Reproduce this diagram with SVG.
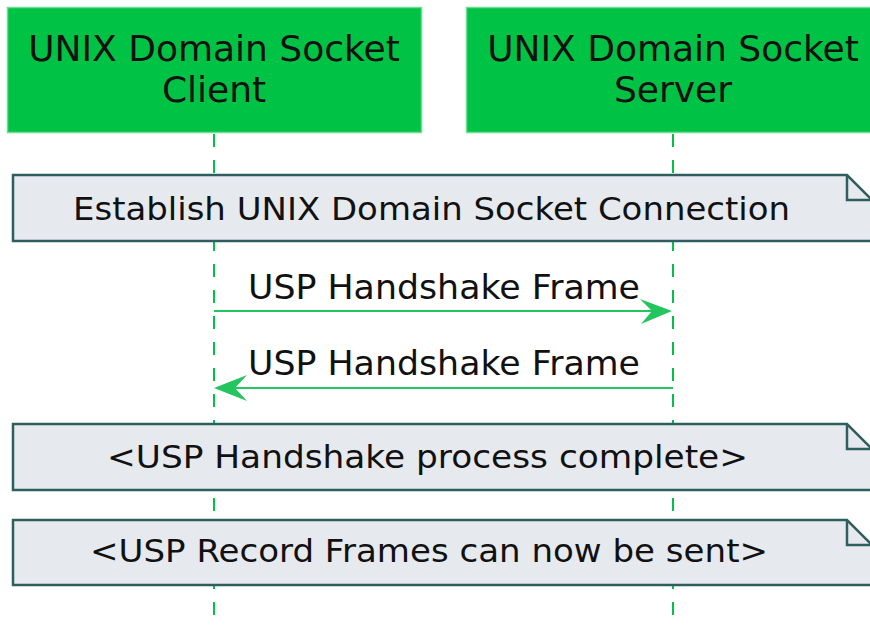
<svg xmlns="http://www.w3.org/2000/svg" width="870" height="627" viewBox="0 0 870 627">
<style>
.box{fill:#00C244;stroke:#6EDC92;stroke-width:1.5}
.life{stroke:#00C244;stroke-width:2;stroke-dasharray:13,13;fill:none}
.msg{stroke:#22C55E;stroke-width:2.2;fill:none}
.head{fill:#22C55E;stroke:none}
.note{fill:#E6EAEE;stroke:#2F5E5E;stroke-width:2.5}
.fold{fill:none;stroke:#2F5E5E;stroke-width:2.5}
.t{font-family:"DejaVu Sans",Verdana,sans-serif;fill:#111}
.h{font-size:36px;text-anchor:middle}
.m{font-size:33px}
.n{font-size:32px}
</style>
<rect width="870" height="627" fill="#FFFFFF"/>
<g id="lifelines">
<line class="life" x1="214" y1="134" x2="214" y2="627"/>
<line class="life" x1="673" y1="134" x2="673" y2="627"/>
</g>
<g id="client">
<rect class="box" x="7.5" y="7.5" width="414" height="125"/>
<text class="t h" x="214" y="61">UNIX Domain Socket</text>
<text class="t h" x="214" y="102">Client</text>
</g>
<g id="server">
<rect class="box" x="466.5" y="7.5" width="420" height="125"/>
<text class="t h" x="673" y="61">UNIX Domain Socket</text>
<text class="t h" x="673" y="102">Server</text>
</g>
<g id="note1">
<path class="note" d="M13,175 L847,175 L872,200 L872,241 L13,241 Z"/>
<path class="fold" d="M847,175 L847,200 L872,200"/>
<text class="t n" x="73" y="220" textLength="717" lengthAdjust="spacingAndGlyphs">Establish UNIX Domain Socket Connection</text>
</g>
<g id="connectors">
<line class="msg" x1="214" y1="311" x2="660" y2="311"/>
<polygon class="head" points="672,311 640,299 652,311 641,324"/>
<text class="t m" x="248" y="299" textLength="392" lengthAdjust="spacingAndGlyphs">USP Handshake Frame</text>
<line class="msg" x1="673" y1="388" x2="226" y2="388"/>
<polygon class="head" points="214,388 247,375 235,388 247,401"/>
<text class="t m" x="248" y="375" textLength="392" lengthAdjust="spacingAndGlyphs">USP Handshake Frame</text>
</g>
<g id="note2">
<path class="note" d="M13,424 L847,424 L872,449 L872,490 L13,490 Z"/>
<path class="fold" d="M847,424 L847,449 L872,449"/>
<text class="t n" x="107" y="468" textLength="641" lengthAdjust="spacingAndGlyphs">&lt;USP Handshake process complete&gt;</text>
</g>
<g id="note3">
<path class="note" d="M13,520 L847,520 L872,545 L872,585 L13,585 Z"/>
<path class="fold" d="M847,520 L847,545 L872,545"/>
<text class="t n" x="90" y="562" textLength="678" lengthAdjust="spacingAndGlyphs">&lt;USP Record Frames can now be sent&gt;</text>
</g>
</svg>
